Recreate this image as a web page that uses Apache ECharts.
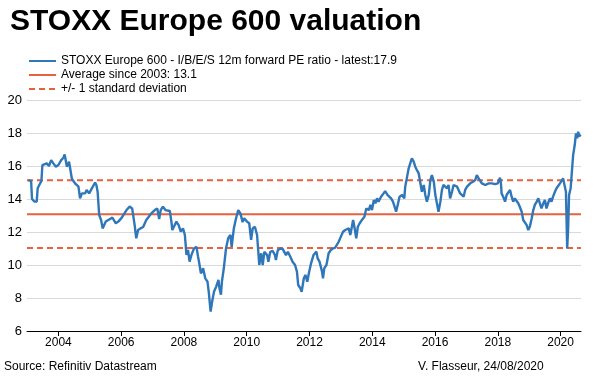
<!DOCTYPE html>
<html>
<head>
<meta charset="utf-8">
<script src="https://cdn.jsdelivr.net/npm/echarts@6/dist/echarts.min.js"></script>
<style>
  html, body { margin: 0; padding: 0; background: #fff; }
  #chart { width: 600px; height: 376px; }
</style>
</head>
<body>
<div id="chart"></div>
<script>
// decimal year of each reading
const years = [
  2003.04, 2003.13, 2003.16, 2003.24, 2003.31, 2003.34, 2003.42, 2003.46, 2003.49, 2003.55,
  2003.63, 2003.70, 2003.77, 2003.84, 2003.92, 2004.00, 2004.09, 2004.16, 2004.20, 2004.27,
  2004.34, 2004.39, 2004.43, 2004.53, 2004.59, 2004.64, 2004.69, 2004.75, 2004.85, 2004.90,
  2004.98, 2005.04, 2005.10, 2005.17, 2005.21, 2005.25, 2005.30, 2005.36, 2005.41, 2005.47,
  2005.51, 2005.59, 2005.72, 2005.78, 2005.83, 2005.91, 2006.02, 2006.06, 2006.17, 2006.27,
  2006.35, 2006.40, 2006.43, 2006.48, 2006.54, 2006.62, 2006.70, 2006.80, 2006.88, 2006.96,
  2007.07, 2007.15, 2007.21, 2007.26, 2007.33, 2007.41, 2007.47, 2007.55, 2007.60, 2007.63,
  2007.68, 2007.76, 2007.83, 2007.90, 2007.97, 2008.03, 2008.08, 2008.13, 2008.18, 2008.24,
  2008.32, 2008.40, 2008.45, 2008.48, 2008.54, 2008.61, 2008.68, 2008.75, 2008.79, 2008.85,
  2008.90, 2008.96, 2009.03, 2009.10, 2009.13, 2009.18, 2009.21, 2009.27, 2009.34, 2009.41,
  2009.48, 2009.52, 2009.59, 2009.66, 2009.73, 2009.80, 2009.87, 2009.92, 2010.01, 2010.08,
  2010.14, 2010.19, 2010.26, 2010.33, 2010.40, 2010.46, 2010.51, 2010.56, 2010.65, 2010.69,
  2010.75, 2010.83, 2010.90, 2010.93, 2010.99, 2011.07, 2011.15, 2011.20, 2011.25, 2011.31,
  2011.39, 2011.46, 2011.54, 2011.60, 2011.64, 2011.71, 2011.75, 2011.82, 2011.87, 2011.93,
  2011.98, 2012.05, 2012.13, 2012.22, 2012.26, 2012.32, 2012.40, 2012.43, 2012.47, 2012.54,
  2012.61, 2012.68, 2012.75, 2012.82, 2012.88, 2012.93, 2013.00, 2013.07, 2013.14, 2013.19,
  2013.25, 2013.30, 2013.35, 2013.39, 2013.43, 2013.49, 2013.54, 2013.60, 2013.67, 2013.75,
  2013.81, 2013.89, 2013.94, 2013.99, 2014.05, 2014.10, 2014.15, 2014.20, 2014.28, 2014.36,
  2014.41, 2014.49, 2014.55, 2014.60, 2014.66, 2014.70, 2014.76, 2014.81, 2014.87, 2014.95,
  2014.98, 2015.02, 2015.05, 2015.10, 2015.16, 2015.21, 2015.26, 2015.32, 2015.37, 2015.42,
  2015.48, 2015.53, 2015.58, 2015.64, 2015.69, 2015.74, 2015.80, 2015.85, 2015.90, 2015.96,
  2016.01, 2016.07, 2016.11, 2016.17, 2016.22, 2016.27, 2016.32, 2016.38, 2016.43, 2016.48,
  2016.54, 2016.59, 2016.64, 2016.70, 2016.75, 2016.80, 2016.86, 2016.91, 2016.96, 2017.02,
  2017.07, 2017.12, 2017.21, 2017.28, 2017.33, 2017.39, 2017.44, 2017.49, 2017.55, 2017.60,
  2017.65, 2017.71, 2017.76, 2017.81, 2017.87, 2017.91, 2017.95, 2018.00, 2018.07, 2018.10,
  2018.12, 2018.17, 2018.23, 2018.28, 2018.33, 2018.39, 2018.44, 2018.49, 2018.54, 2018.60,
  2018.65, 2018.70, 2018.76, 2018.81, 2018.86, 2018.92, 2018.97, 2019.02, 2019.08, 2019.13,
  2019.18, 2019.24, 2019.29, 2019.34, 2019.39, 2019.45, 2019.50, 2019.55, 2019.60, 2019.66,
  2019.71, 2019.76, 2019.82, 2019.87, 2019.92, 2019.98, 2020.03, 2020.08, 2020.14, 2020.17,
  2020.21, 2020.24, 2020.27, 2020.32, 2020.36, 2020.40, 2020.45, 2020.49, 2020.53, 2020.56,
  2020.59, 2020.61, 2020.64
];

// 12m forward PE ratio
const pe = [
  15.13, 15.10, 14.00, 13.84, 13.84, 14.65, 14.95, 15.10, 16.06, 15.96,
  16.16, 16.00, 16.36, 16.16, 15.96, 16.06, 16.36, 16.50, 16.70, 15.96,
  16.26, 16.20, 15.23, 14.95, 15.05, 14.75, 14.04, 14.34, 14.34, 14.55,
  14.34, 14.55, 14.65, 15.00, 14.85, 14.44, 13.03, 12.73, 12.22, 12.26,
  12.63, 12.73, 12.87, 12.87, 12.53, 12.63, 12.87, 12.93, 13.33, 13.54,
  13.43, 13.33, 12.42, 11.62, 12.12, 12.22, 12.30, 12.73, 12.93, 13.13,
  13.33, 13.43, 12.79, 13.33, 13.54, 13.33, 13.43, 13.27, 12.63, 12.12,
  12.32, 12.63, 12.42, 12.02, 12.22, 11.82, 10.61, 10.91, 10.20, 10.61,
  11.00, 11.10, 10.50, 10.20, 9.49, 9.80, 9.19, 8.99, 8.38, 7.17,
  7.80, 8.40, 8.70, 9.10, 8.60, 8.20, 9.00, 9.80, 11.00, 11.62,
  11.82, 11.10, 12.22, 12.83, 13.33, 13.13, 12.60, 12.83, 12.63, 12.53,
  11.52, 12.22, 12.32, 11.82, 10.00, 10.71, 10.00, 10.80, 10.60, 10.20,
  10.80, 10.85, 10.60, 10.30, 10.90, 11.00, 10.96, 11.05, 10.60, 10.80,
  10.50, 10.20, 10.00, 9.60, 8.79, 8.59, 8.38, 9.20, 9.40, 8.99,
  9.50, 10.10, 10.61, 10.81, 10.40, 10.20, 9.60, 9.19, 9.80, 10.00,
  10.71, 10.91, 11.00, 11.05, 11.10, 11.41, 11.72, 12.02, 12.12, 12.02,
  12.22, 11.82, 12.32, 12.73, 12.32, 11.62, 12.32, 12.53, 12.73, 12.93,
  13.43, 13.33, 13.64, 13.33, 13.94, 13.74, 14.04, 13.84, 14.14, 14.34,
  14.48, 14.24, 14.14, 14.04, 13.84, 13.84, 13.23, 13.64, 14.14, 14.24,
  14.14, 14.04, 14.75, 15.25, 15.86, 16.16, 16.46, 16.26, 15.96, 15.76,
  15.55, 15.45, 14.44, 14.85, 14.24, 13.84, 14.24, 15.15, 15.45, 15.05,
  14.24, 13.64, 13.23, 13.84, 14.55, 14.85, 14.95, 14.65, 14.85, 14.04,
  14.44, 14.85, 14.95, 14.75, 14.55, 14.34, 14.24, 14.14, 14.55, 14.75,
  14.85, 14.95, 15.05, 15.15, 15.45, 15.25, 15.15, 14.95, 15.05, 14.85,
  14.75, 14.95, 15.05, 14.95, 15.05, 14.90, 14.95, 14.95, 15.29, 14.95,
  14.34, 14.14, 13.84, 14.24, 14.34, 14.55, 14.14, 13.84, 14.04, 13.94,
  13.74, 13.53, 13.23, 12.73, 12.83, 12.42, 12.12, 12.32, 12.83, 13.33,
  13.64, 13.84, 14.04, 13.74, 13.43, 13.74, 13.94, 13.43, 13.74, 14.04,
  13.84, 14.14, 14.44, 14.65, 14.75, 14.95, 14.85, 15.25, 15.15, 14.44,
  11.00, 12.20, 14.24, 14.65, 15.66, 16.67, 17.27, 17.98, 17.68, 18.08,
  17.80, 17.70, 17.90
];

const startYear = 2003;
const endYear = 2020.65;
const average = 13.08;
const stdDev = 2.05;
const tickYears = [2004, 2006, 2008, 2010, 2012, 2014, 2016, 2018, 2020];

const peName = 'STOXX Europe 600 - I/B/E/S 12m forward PE ratio - latest:17.9';
const avgName = 'Average since 2003: 13.1';
const sdName = '+/- 1 standard deviation';

const blue = '#2f77b8';
const red = '#e8613f';
const font = 'Liberation Sans, Arial, sans-serif';

const flat = (v) => [[startYear, v], [endYear, v]];

const chart = echarts.init(document.getElementById('chart'), null, { renderer: 'canvas' });

chart.setOption({
  animation: false,
  backgroundColor: '#ffffff',
  textStyle: { fontFamily: font },
  title: {
    text: 'STOXX Europe 600 valuation',
    left: 5,
    top: 2,
    textStyle: { fontSize: 30, fontWeight: 'bold', color: '#000', fontFamily: font }
  },
  legend: {
    orient: 'vertical',
    left: 28,
    top: 55,
    padding: 0,
    itemWidth: 27,
    itemHeight: 10,
    itemGap: 2,
    data: [peName, avgName, sdName],
    itemStyle: { opacity: 0 },
    textStyle: { fontSize: 12, color: '#000', fontFamily: font, lineHeight: 12 }
  },
  grid: { left: 27, right: 19, top: 100, bottom: 45 },
  xAxis: {
    type: 'value',
    min: startYear,
    max: endYear,
    axisLine: { lineStyle: { color: '#000', width: 1 } },
    axisTick: { show: true, customValues: tickYears, length: 5, lineStyle: { color: '#000' } },
    axisLabel: {
      customValues: tickYears,
      color: '#000',
      fontSize: 12,
      margin: 6,
      fontFamily: font,
      formatter: (v) => String(Math.round(v))
    },
    splitLine: { show: false }
  },
  yAxis: {
    type: 'value',
    min: 6,
    max: 20,
    interval: 2,
    axisLine: { show: false },
    axisTick: { show: false },
    axisLabel: { color: '#000', fontSize: 13, margin: 5, fontFamily: font },
    splitLine: { lineStyle: { color: '#d9d9d9', width: 1 } }
  },
  series: [
    {
      name: peName,
      type: 'line',
      data: years.map((y, i) => [y, pe[i]]),
      symbol: 'none',
      z: 3,
      lineStyle: { color: blue, width: 2.4 },
      itemStyle: { color: blue }
    },
    {
      name: avgName,
      type: 'line',
      data: flat(average),
      symbol: 'none',
      z: 2,
      lineStyle: { color: red, width: 2 },
      itemStyle: { color: red }
    },
    {
      name: sdName,
      type: 'line',
      data: flat(average + stdDev),
      symbol: 'none',
      z: 2,
      lineStyle: { color: red, width: 2, type: [6, 4] },
      itemStyle: { color: red }
    },
    {
      name: sdName,
      type: 'line',
      data: flat(average - stdDev),
      symbol: 'none',
      z: 2,
      lineStyle: { color: red, width: 2, type: [6, 4] },
      itemStyle: { color: red }
    }
  ],
  graphic: [
    {
      type: 'text',
      left: 4,
      top: 361,
      style: { text: 'Source: Refinitiv Datastream', fontSize: 12, fill: '#000', fontFamily: font }
    },
    {
      type: 'text',
      left: 418,
      top: 361,
      style: { text: 'V. Flasseur, 24/08/2020', fontSize: 12, fill: '#000', fontFamily: font }
    }
  ]
});
</script>
</body>
</html>
